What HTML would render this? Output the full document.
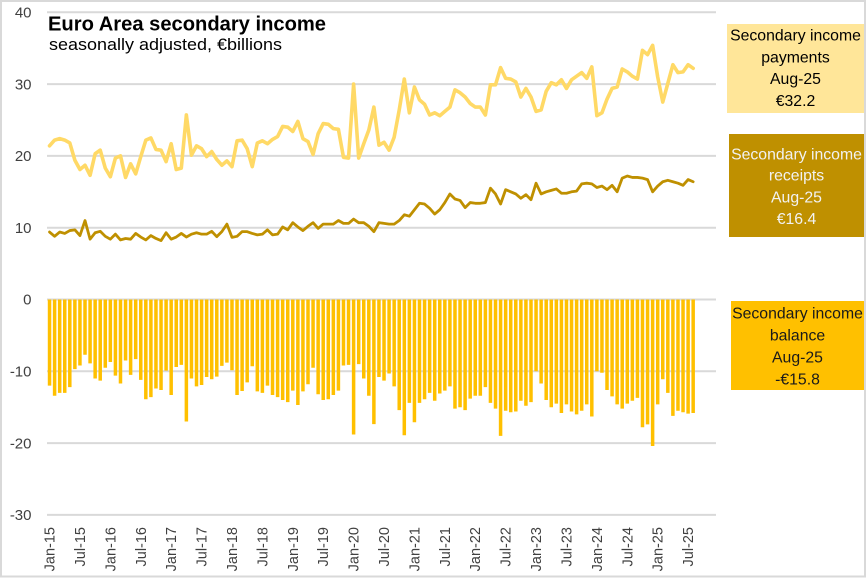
<!DOCTYPE html>
<html><head><meta charset="utf-8"><style>
html,body{margin:0;padding:0;background:#fff;}
svg{display:block;}
text{font-family:"Liberation Sans",Arial,sans-serif;}
</style></head><body>
<svg width="866" height="578" viewBox="0 0 866 578" xmlns="http://www.w3.org/2000/svg">
<rect x="0" y="0" width="866" height="578" fill="#fff"/>
<rect x="1" y="1" width="864" height="575.5" fill="none" stroke="#d9d9d9" stroke-width="2"/>
<g stroke="#d9d9d9" stroke-width="2">
<line x1="47" x2="716" y1="12.3" y2="12.3"/>
<line x1="47" x2="716" y1="84.1" y2="84.1"/>
<line x1="47" x2="716" y1="155.9" y2="155.9"/>
<line x1="47" x2="716" y1="227.7" y2="227.7"/>
<line x1="47" x2="716" y1="299.5" y2="299.5"/>
<line x1="47" x2="716" y1="371.3" y2="371.3"/>
<line x1="47" x2="716" y1="443.1" y2="443.1"/>
<line x1="47" x2="716" y1="514.9" y2="514.9"/>
</g>
<g fill="#404040" font-size="15" text-anchor="end">
<text x="31.5" y="17.5">40</text>
<text x="31.5" y="89.3">30</text>
<text x="31.5" y="161.1">20</text>
<text x="31.5" y="232.9">10</text>
<text x="31.5" y="304.7">0</text>
<text x="31.5" y="376.5">-10</text>
<text x="31.5" y="448.3">-20</text>
<text x="31.5" y="520.1">-30</text>
</g>
<g transform="translate(47,299.5) scale(5.068,-7.18)">
<path fill="none" stroke="#FFC000" stroke-width="3.5" vector-effect="non-scaling-stroke" d="M0.5 0V-12.0M1.5 0V-13.4M2.5 0V-13.0M3.5 0V-13.0M4.5 0V-12.2M5.5 0V-9.7M6.5 0V-9.2M7.5 0V-7.7M8.5 0V-8.9M9.5 0V-11.0M10.5 0V-11.3M11.5 0V-9.5M12.5 0V-8.7M13.5 0V-10.6M14.5 0V-11.7M15.5 0V-8.5M16.5 0V-10.5M17.5 0V-8.3M18.5 0V-11.2M19.5 0V-13.9M20.5 0V-13.6M21.5 0V-12.4M22.5 0V-12.6M23.5 0V-9.9M24.5 0V-13.3M25.5 0V-9.4M26.5 0V-9.1M27.5 0V-17.0M28.5 0V-11.0M29.5 0V-12.1M30.5 0V-11.9M31.5 0V-10.8M32.5 0V-11.1M33.5 0V-10.75M34.5 0V-9.25M35.5 0V-8.8M36.5 0V-9.85M37.5 0V-13.3M38.5 0V-12.75M39.5 0V-11.55M40.5 0V-9.3M41.5 0V-12.8M42.5 0V-13.0M43.5 0V-12.0M44.5 0V-13.3M45.5 0V-13.6M46.5 0V-14.0M47.5 0V-14.3M48.5 0V-12.7M49.5 0V-14.7M50.5 0V-12.8M51.5 0V-11.8M52.5 0V-9.5M53.5 0V-13.2M54.5 0V-14.0M55.5 0V-13.9M56.5 0V-13.3M57.5 0V-12.7M58.5 0V-9.2M59.5 0V-9.1M60.5 0V-18.8M61.5 0V-9.0M62.5 0V-11.0M63.5 0V-13.4M64.5 0V-17.35M65.5 0V-10.8M66.5 0V-11.3M67.5 0V-10.3M68.5 0V-12.1M69.5 0V-15.4M70.5 0V-18.9M71.5 0V-14.4M72.5 0V-17.1M73.5 0V-14.4M74.5 0V-13.9M75.5 0V-13.0M76.5 0V-14.1M77.5 0V-13.1M78.5 0V-12.7M79.5 0V-12.1M80.5 0V-15.2M81.5 0V-15.0M82.5 0V-15.4M83.5 0V-13.8M84.5 0V-13.4M85.5 0V-13.4M86.5 0V-12.2M87.5 0V-14.4M88.5 0V-15.2M89.5 0V-19.0M90.5 0V-15.5M91.5 0V-15.7M92.5 0V-15.6M93.5 0V-14.1M94.5 0V-14.8M95.5 0V-14.3M96.5 0V-10.0M97.5 0V-11.7M98.5 0V-14.0M99.5 0V-15.0M100.5 0V-14.5M101.5 0V-15.8M102.5 0V-14.6M103.5 0V-15.6M104.5 0V-16.0M105.5 0V-15.5M106.5 0V-14.6M107.5 0V-16.3M108.5 0V-10.0M109.5 0V-10.2M110.5 0V-12.6M111.5 0V-13.5M112.5 0V-14.6M113.5 0V-15.2M114.5 0V-14.5M115.5 0V-14.1M116.5 0V-13.7M117.5 0V-17.8M118.5 0V-17.4M119.5 0V-20.4M120.5 0V-14.6M121.5 0V-11.1M122.5 0V-13.0M123.5 0V-16.2M124.5 0V-15.5M125.5 0V-15.7M126.5 0V-15.9M127.5 0V-15.8"/>
<polyline fill="none" stroke="#FFD966" stroke-width="3.6" stroke-linejoin="round" stroke-linecap="round" vector-effect="non-scaling-stroke" points="0.5,21.4 1.5,22.2 2.5,22.4 3.5,22.2 4.5,21.8 5.5,19.4 6.5,18.1 7.5,18.7 8.5,17.3 9.5,20.3 10.5,20.8 11.5,18.3 12.5,17.1 13.5,19.7 14.5,20.0 15.5,17.0 16.5,18.9 17.5,17.5 18.5,19.9 19.5,22.2 20.5,22.5 21.5,20.9 22.5,20.8 23.5,19.2 24.5,21.7 25.5,18.1 26.5,18.3 27.5,25.7 28.5,20.1 29.5,21.4 30.5,21.0 31.5,19.9 32.5,20.6 33.5,19.5 34.5,18.7 35.5,19.3 36.5,18.5 37.5,22.1 38.5,22.2 39.5,21.0 40.5,18.5 41.5,21.8 42.5,22.1 43.5,21.7 44.5,22.3 45.5,22.7 46.5,24.1 47.5,24.0 48.5,23.4 49.5,24.8 50.5,22.4 51.5,22.0 52.5,20.2 53.5,23.1 54.5,24.5 55.5,24.4 56.5,23.8 57.5,23.7 58.5,19.8 59.5,19.7 60.5,30.0 61.5,19.7 62.5,21.7 63.5,23.6 64.5,26.8 65.5,21.5 66.5,21.9 67.5,20.8 68.5,22.6 69.5,26.4 70.5,30.7 71.5,26.0 72.5,29.6 73.5,27.8 74.5,27.2 75.5,25.7 76.5,26.0 77.5,25.6 78.5,26.2 79.5,26.8 80.5,29.2 81.5,28.8 82.5,28.2 83.5,27.3 84.5,26.8 85.5,26.8 86.5,25.7 87.5,29.9 88.5,29.9 89.5,32.3 90.5,30.8 91.5,30.7 92.5,30.3 93.5,28.2 94.5,29.4 95.5,28.2 96.5,26.2 97.5,26.4 98.5,29.0 99.5,30.2 100.5,29.9 101.5,30.6 102.5,29.4 103.5,30.6 104.5,31.1 105.5,31.6 106.5,30.8 107.5,32.4 108.5,25.6 109.5,26.0 110.5,27.9 111.5,29.4 112.5,29.6 113.5,32.1 114.5,31.7 115.5,31.1 116.5,30.7 117.5,34.7 118.5,34.1 119.5,35.4 120.5,31.0 121.5,27.5 122.5,30.1 123.5,32.7 124.5,31.6 125.5,31.7 126.5,32.7 127.5,32.2"/>
<polyline fill="none" stroke="#BF9000" stroke-width="2.8" stroke-linejoin="round" stroke-linecap="round" vector-effect="non-scaling-stroke" points="0.5,9.4 1.5,8.8 2.5,9.4 3.5,9.2 4.5,9.6 5.5,9.7 6.5,8.9 7.5,11.0 8.5,8.4 9.5,9.3 10.5,9.5 11.5,8.8 12.5,8.4 13.5,9.1 14.5,8.3 15.5,8.5 16.5,8.4 17.5,9.2 18.5,8.7 19.5,8.3 20.5,8.9 21.5,8.5 22.5,8.2 23.5,9.3 24.5,8.4 25.5,8.7 26.5,9.2 27.5,8.7 28.5,9.1 29.5,9.3 30.5,9.1 31.5,9.1 32.5,9.5 33.5,8.75 34.5,9.45 35.5,10.5 36.5,8.65 37.5,8.8 38.5,9.45 39.5,9.45 40.5,9.2 41.5,9.0 42.5,9.1 43.5,9.7 44.5,9.0 45.5,9.1 46.5,10.1 47.5,9.7 48.5,10.7 49.5,10.1 50.5,9.6 51.5,10.2 52.5,10.7 53.5,9.9 54.5,10.5 55.5,10.5 56.5,10.5 57.5,11.0 58.5,10.6 59.5,10.6 60.5,11.2 61.5,10.7 62.5,10.7 63.5,10.2 64.5,9.45 65.5,10.7 66.5,10.6 67.5,10.5 68.5,10.5 69.5,11.0 70.5,11.8 71.5,11.6 72.5,12.5 73.5,13.4 74.5,13.3 75.5,12.7 76.5,11.9 77.5,12.5 78.5,13.5 79.5,14.7 80.5,14.0 81.5,13.8 82.5,12.8 83.5,13.5 84.5,13.4 85.5,13.4 86.5,13.5 87.5,15.5 88.5,14.7 89.5,13.3 90.5,15.3 91.5,15.0 92.5,14.7 93.5,14.1 94.5,14.6 95.5,13.9 96.5,16.2 97.5,14.7 98.5,15.0 99.5,15.2 100.5,15.4 101.5,14.8 102.5,14.8 103.5,15.0 104.5,15.1 105.5,16.1 106.5,16.2 107.5,16.1 108.5,15.6 109.5,15.8 110.5,15.3 111.5,15.9 112.5,15.0 113.5,16.9 114.5,17.2 115.5,17.0 116.5,17.0 117.5,16.9 118.5,16.7 119.5,15.0 120.5,15.8 121.5,16.4 122.5,16.6 123.5,16.4 124.5,16.2 125.5,15.9 126.5,16.7 127.5,16.4"/>
</g>
<g fill="#404040" font-size="14.5" text-anchor="end">
<text transform="translate(54.5,527) rotate(-90)">Jan-15</text>
<text transform="translate(84.9,527) rotate(-90)">Jul-15</text>
<text transform="translate(115.3,527) rotate(-90)">Jan-16</text>
<text transform="translate(145.8,527) rotate(-90)">Jul-16</text>
<text transform="translate(176.2,527) rotate(-90)">Jan-17</text>
<text transform="translate(206.6,527) rotate(-90)">Jul-17</text>
<text transform="translate(237.0,527) rotate(-90)">Jan-18</text>
<text transform="translate(267.4,527) rotate(-90)">Jul-18</text>
<text transform="translate(297.8,527) rotate(-90)">Jan-19</text>
<text transform="translate(328.2,527) rotate(-90)">Jul-19</text>
<text transform="translate(358.6,527) rotate(-90)">Jan-20</text>
<text transform="translate(389.0,527) rotate(-90)">Jul-20</text>
<text transform="translate(419.4,527) rotate(-90)">Jan-21</text>
<text transform="translate(449.8,527) rotate(-90)">Jul-21</text>
<text transform="translate(480.2,527) rotate(-90)">Jan-22</text>
<text transform="translate(510.6,527) rotate(-90)">Jul-22</text>
<text transform="translate(541.1,527) rotate(-90)">Jan-23</text>
<text transform="translate(571.5,527) rotate(-90)">Jul-23</text>
<text transform="translate(601.9,527) rotate(-90)">Jan-24</text>
<text transform="translate(632.3,527) rotate(-90)">Jul-24</text>
<text transform="translate(662.7,527) rotate(-90)">Jan-25</text>
<text transform="translate(693.1,527) rotate(-90)">Jul-25</text>
</g>
<text x="48" y="30.5" font-size="20" font-weight="bold" fill="#000" textLength="278" lengthAdjust="spacingAndGlyphs">Euro Area secondary income</text>
<text x="49" y="50" font-size="16.5" fill="#000" textLength="233" lengthAdjust="spacingAndGlyphs">seasonally adjusted, €billions</text>
<rect x="727" y="24" width="137" height="89" fill="#FFE699"/>
<g font-size="15.8" fill="#000" text-anchor="middle">
<text x="795.5" y="40.7">Secondary income</text>
<text x="795.5" y="62.3">payments</text>
<text x="795.5" y="84">Aug-25</text>
<text x="795.5" y="106">€32.2</text>
</g>
<rect x="729" y="134" width="135" height="103" fill="#BF9000"/>
<g font-size="15.8" fill="#f2f2f2" text-anchor="middle">
<text x="796.5" y="159.3">Secondary income</text>
<text x="796.5" y="180.3">receipts</text>
<text x="796.5" y="202.3">Aug-25</text>
<text x="796.5" y="224">€16.4</text>
</g>
<rect x="731" y="301" width="133" height="89" fill="#FFC000"/>
<g font-size="15.8" fill="#1a1a1a" text-anchor="middle">
<text x="797.5" y="318.3">Secondary income</text>
<text x="797.5" y="340.7">balance</text>
<text x="797.5" y="362.7">Aug-25</text>
<text x="797.5" y="384.3">-€15.8</text>
</g>
</svg>
</body></html>
